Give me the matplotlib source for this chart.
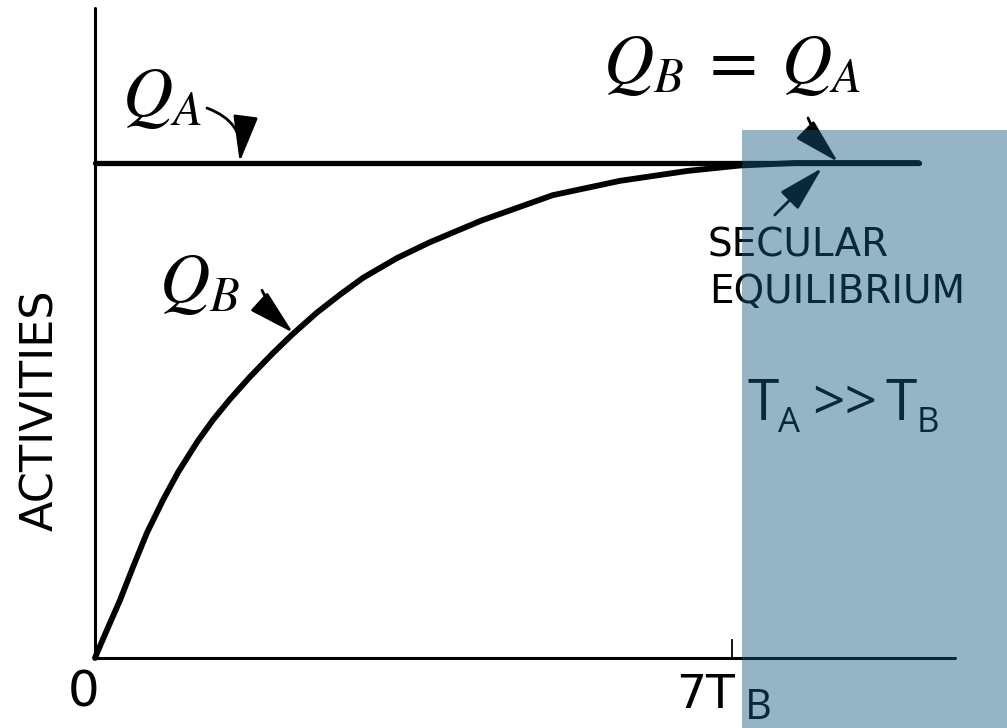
import numpy as np
import matplotlib
matplotlib.use('Agg')
import matplotlib.pyplot as plt
from matplotlib.patches import Rectangle

# time in units of T_B, activities relative to Q_A
t_b = [0.0, 0.022, 0.132, 0.275, 0.418, 0.571, 0.747, 0.912, 1.121, 1.297, 1.484,
       1.703, 1.956, 2.176, 2.44, 2.692, 2.945, 3.319, 3.681, 4.25, 5.03, 5.77,
       6.51, 7.09, 7.7, 8.3, 9.05]
q_b = [0.0, 0.010, 0.057, 0.117, 0.184, 0.253, 0.319, 0.375, 0.436, 0.481, 0.523,
       0.568, 0.616, 0.655, 0.698, 0.734, 0.768, 0.808, 0.840, 0.884, 0.935, 0.964,
       0.984, 0.995, 1.0, 1.0, 1.0]
t_a = [0.0, 9.05]
q_a = [1.0, 1.0]
x_ticks = [0, 7]
x_ticklabels = ['0', '7T']
shade_from = 7.11
shade_top = 1.067

narrow = ['Liberation Sans Narrow', 'DejaVu Sans']

fig = plt.figure(figsize=(10.07, 7.28), dpi=100)
ax = fig.add_axes([0, 0, 1, 1])
ax.set_xlim(-95 / 91, (1007 - 95) / 91)
ax.set_ylim(-70 / 495, 658 / 495)
ax.axis('off')

# axes drawn by hand
ax.plot([0, 0], [0, 1.313], color='black', lw=2.2, solid_capstyle='round')
ax.plot([0, 9.45], [0, 0], color='black', lw=2.2, solid_capstyle='round')
ax.plot([7, 7], [0, 0.036], color='black', lw=1.3)

ax.plot(t_a, q_a, color='black', lw=3.8, solid_capstyle='round')
ax.plot(t_b, q_b, color='black', lw=4.2, solid_capstyle='round', solid_joinstyle='round')

ax.text(x_ticks[0] - 0.13, -0.07, x_ticklabels[0], family=narrow, fontsize=36,
        ha='center', va='center')
ax.text(x_ticks[1] + 0.03, -0.03, x_ticklabels[1], family=narrow, fontsize=34,
        ha='right', va='top')
ax.text(x_ticks[1] + 0.14, -0.124, 'B', family='Open Sans', fontsize=30,
        ha='left', va='baseline')
ax.text(-0.6, 0.5, 'ACTIVITIES', family=narrow, fontsize=32, rotation=90,
        ha='center', va='center')

ax.text(0.3, 1.132, '$Q_A$', fontsize=50, math_fontfamily='stix', va='center')
ax.text(0.7, 0.757, '$Q_B$', fontsize=50, math_fontfamily='stix', va='center')
ax.text(5.58, 1.2, '$Q_B\\;=\\;Q_A$', fontsize=50, math_fontfamily='stix', va='center')
ax.text(6.73, 0.833, 'SECULAR', family=narrow, fontsize=28, va='center')
ax.text(6.75, 0.74, 'EQUILIBRIUM', family=narrow, fontsize=28, va='center')

# T_A >> T_B, subscripts drawn as separate pieces
ax.text(7.165, 0.481, 'T', family='Open Sans', fontsize=41, va='baseline')
ax.text(7.5, 0.457, 'A', family='Open Sans', fontsize=25, va='baseline')
ax.text(7.88, 0.481, '>>', family='Open Sans', fontsize=41, va='baseline')
ax.text(8.69, 0.481, 'T', family='Open Sans', fontsize=41, va='baseline')
ax.text(9.03, 0.457, 'B', family='Open Sans', fontsize=25, va='baseline')

arrow = dict(arrowstyle='-|>,head_length=1.3,head_width=0.35', color='black',
             lw=2, mutation_scale=22, shrinkA=0, shrinkB=0)
ax.annotate('', xy=(1.59, 1.002), xytext=(1.23, 1.111),
            arrowprops=dict(arrow, connectionstyle='arc3,rad=-0.4'))
ax.annotate('', xy=(2.176, 0.657), xytext=(1.835, 0.743),
            arrowprops=dict(arrow, connectionstyle='arc3,rad=0.1'))
ax.annotate('', xy=(8.165, 1.002), xytext=(7.835, 1.091),
            arrowprops=dict(arrow, connectionstyle='arc3,rad=0.1'))
ax.annotate('', xy=(7.99, 0.99), xytext=(7.47, 0.895),
            arrowprops=dict(arrow, connectionstyle='arc3,rad=0.0'))

ax.add_patch(Rectangle((shade_from, -1), 10, shade_top + 1, color='#165C7F',
                       alpha=0.455, lw=0, zorder=10))

fig.savefig('out.png', dpi=100)
